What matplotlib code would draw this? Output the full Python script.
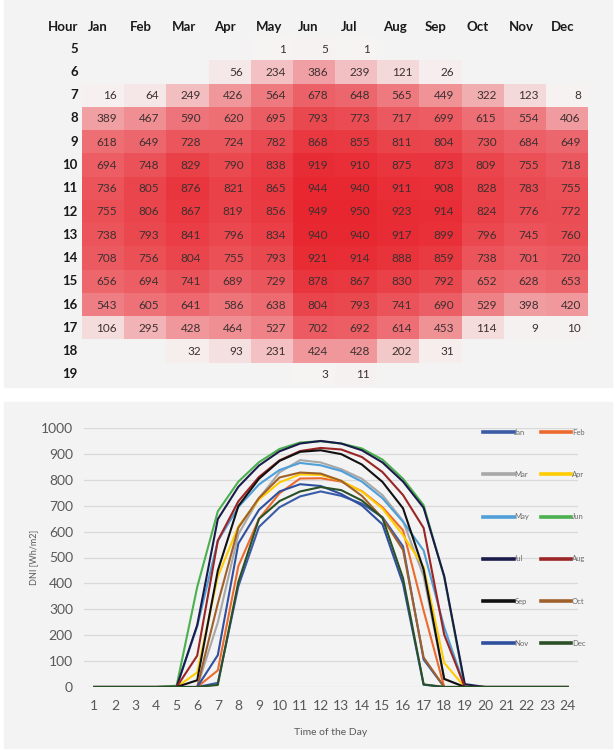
import numpy as np
import matplotlib
matplotlib.use("Agg")
import matplotlib.pyplot as plt
from matplotlib.colors import LinearSegmentedColormap
from matplotlib.patches import Rectangle

plt.rcParams['font.family'] = ['Lato', 'DejaVu Sans']

# Data: hourly DNI (Wh/m2) per month, hours 5..19 (None = blank cell)
hours = list(range(5, 20))
months = ['Jan', 'Feb', 'Mar', 'Apr', 'May', 'Jun',
          'Jul', 'Aug', 'Sep', 'Oct', 'Nov', 'Dec']
jan = [None, None, 16, 389, 618, 694, 736, 755, 738, 708, 656, 543, 106, None, None]
feb = [None, None, 64, 467, 649, 748, 805, 806, 793, 756, 694, 605, 295, None, None]
mar = [None, None, 249, 590, 728, 829, 876, 867, 841, 804, 741, 641, 428, 32, None]
apr = [None, 56, 426, 620, 724, 790, 821, 819, 796, 755, 689, 586, 464, 93, None]
may = [1, 234, 564, 695, 782, 838, 865, 856, 834, 793, 729, 638, 527, 231, None]
jun = [5, 386, 678, 793, 868, 919, 944, 949, 940, 921, 878, 804, 702, 424, 3]
jul = [1, 239, 648, 773, 855, 910, 940, 950, 940, 914, 867, 793, 692, 428, 11]
aug = [None, 121, 565, 717, 811, 875, 911, 923, 917, 888, 830, 741, 614, 202, None]
sep = [None, 26, 449, 699, 804, 873, 908, 914, 899, 859, 792, 690, 453, 31, None]
oct_ = [None, None, 322, 615, 730, 809, 828, 824, 796, 738, 652, 529, 114, None, None]
nov = [None, None, 123, 554, 684, 755, 783, 776, 745, 701, 628, 398, 9, None, None]
dec = [None, None, 8, 406, 649, 718, 755, 772, 760, 720, 653, 420, 10, None, None]
series = [jan, feb, mar, apr, may, jun, jul, aug, sep, oct_, nov, dec]

day_hours = list(range(1, 25))
line_colors = ['#3a5ba8', '#ed6a2e', '#a8a8a8', '#ffcc00', '#4f9fd8', '#4caf50',
               '#1b1b4b', '#9b2424', '#111111', '#a0602a', '#2f4f9f', '#2a5025']

W, H = 615, 750
fig = plt.figure(figsize=(W / 100, H / 100), dpi=100)
fig.patch.set_facecolor('white')

def fx(px):
    return px / W

def fy(py):
    return 1 - py / H

# panel backgrounds
bg = '#f3f3f3'
fig.patches.append(Rectangle((fx(4), fy(387)), fx(608), 387 / H,
                             transform=fig.transFigure, color=bg, zorder=-10))
fig.patches.append(Rectangle((fx(4), fy(748)), fx(608), (748 - 402) / H,
                             transform=fig.transFigure, color=bg, zorder=-10))

# ---------------- heat table ----------------
ax_t = fig.add_axes([fx(82), fy(386), fx(506), 349 / H])
ax_t.set_facecolor('none')
grid = np.array([[np.nan if v is None else v for v in s] for s in series], dtype=float).T
masked = np.ma.masked_invalid(grid)
cmap = LinearSegmentedColormap.from_list('wr', ['#f6f3f3', '#e8262f'])
ax_t.pcolormesh(np.arange(13), np.arange(16), masked, cmap=cmap,
                vmin=np.nanmin(grid), vmax=np.nanmax(grid))
ax_t.set_xlim(0, 12)
ax_t.set_ylim(15, 0)
ax_t.axis('off')

for i, h in enumerate(hours):
    ax_t.text(-0.1, i + 0.5, str(h), ha='right', va='center', fontsize=9.5,
              fontweight='bold', color='#1a1a1a', clip_on=False)
    for j in range(12):
        v = grid[i, j]
        if not np.isnan(v):
            ax_t.text(j + 0.83, i + 0.52, f'{int(v)}', ha='right', va='center',
                      fontsize=8.5, color='#3d3030')
ax_t.text(-0.1, -0.45, 'Hour', ha='right', va='center', fontsize=9.5,
          fontweight='bold', color='#1a1a1a', clip_on=False)
for j, m in enumerate(months):
    ax_t.text(j + 0.13, -0.45, m, ha='left', va='center', fontsize=9.5,
              fontweight='bold', color='#1a1a1a', clip_on=False)

# ---------------- line chart ----------------
ax = fig.add_axes([fx(84), fy(687), fx(494), 259 / H])
ax.set_facecolor('none')
handles = []
for name, s, c in zip(months, series, line_colors):
    full = []
    for h in day_hours:
        if h in hours:
            v = s[hours.index(h)]
            full.append(0 if v is None else v)
        else:
            full.append(0)
    ln, = ax.plot(day_hours, full, color=c, lw=1.5, label=name, zorder=3)
    handles.append(ln)

ax.set_xlim(0.5, 24.5)
ax.set_ylim(0, 1000)
ax.set_yticks(range(0, 1001, 100))
ax.set_xticks(day_hours)
ax.grid(axis='y', color='#d9d9d9', lw=0.9)
ax.set_axisbelow(True)
for sp in ax.spines.values():
    sp.set_visible(False)
ax.tick_params(length=0, labelsize=10, colors='#595959')
ax.tick_params(axis='y', pad=8)
ax.tick_params(axis='x', pad=9)
ax.set_xlabel('Time of the Day', fontsize=7.5, color='#595959', labelpad=12)
ax.set_ylabel('DNI [Wh/m2]', fontsize=6.5, color='#595959', labelpad=2)

order = [0, 2, 4, 6, 8, 10, 1, 3, 5, 7, 9, 11]
leg = ax.legend([handles[k] for k in order], [months[k] for k in order],
                ncol=2, frameon=False, fontsize=5.5, labelcolor='#6a6a6a',
                handlelength=4.0, handletextpad=0.1, columnspacing=1.5,
                labelspacing=4.6, loc='upper left',
                bbox_to_anchor=(fx(483), fy(429)), bbox_transform=fig.transFigure,
                borderpad=0, borderaxespad=0)
for lh in leg.get_lines():
    lh.set_linewidth(2.6)

fig.savefig('out.png', dpi=100)
